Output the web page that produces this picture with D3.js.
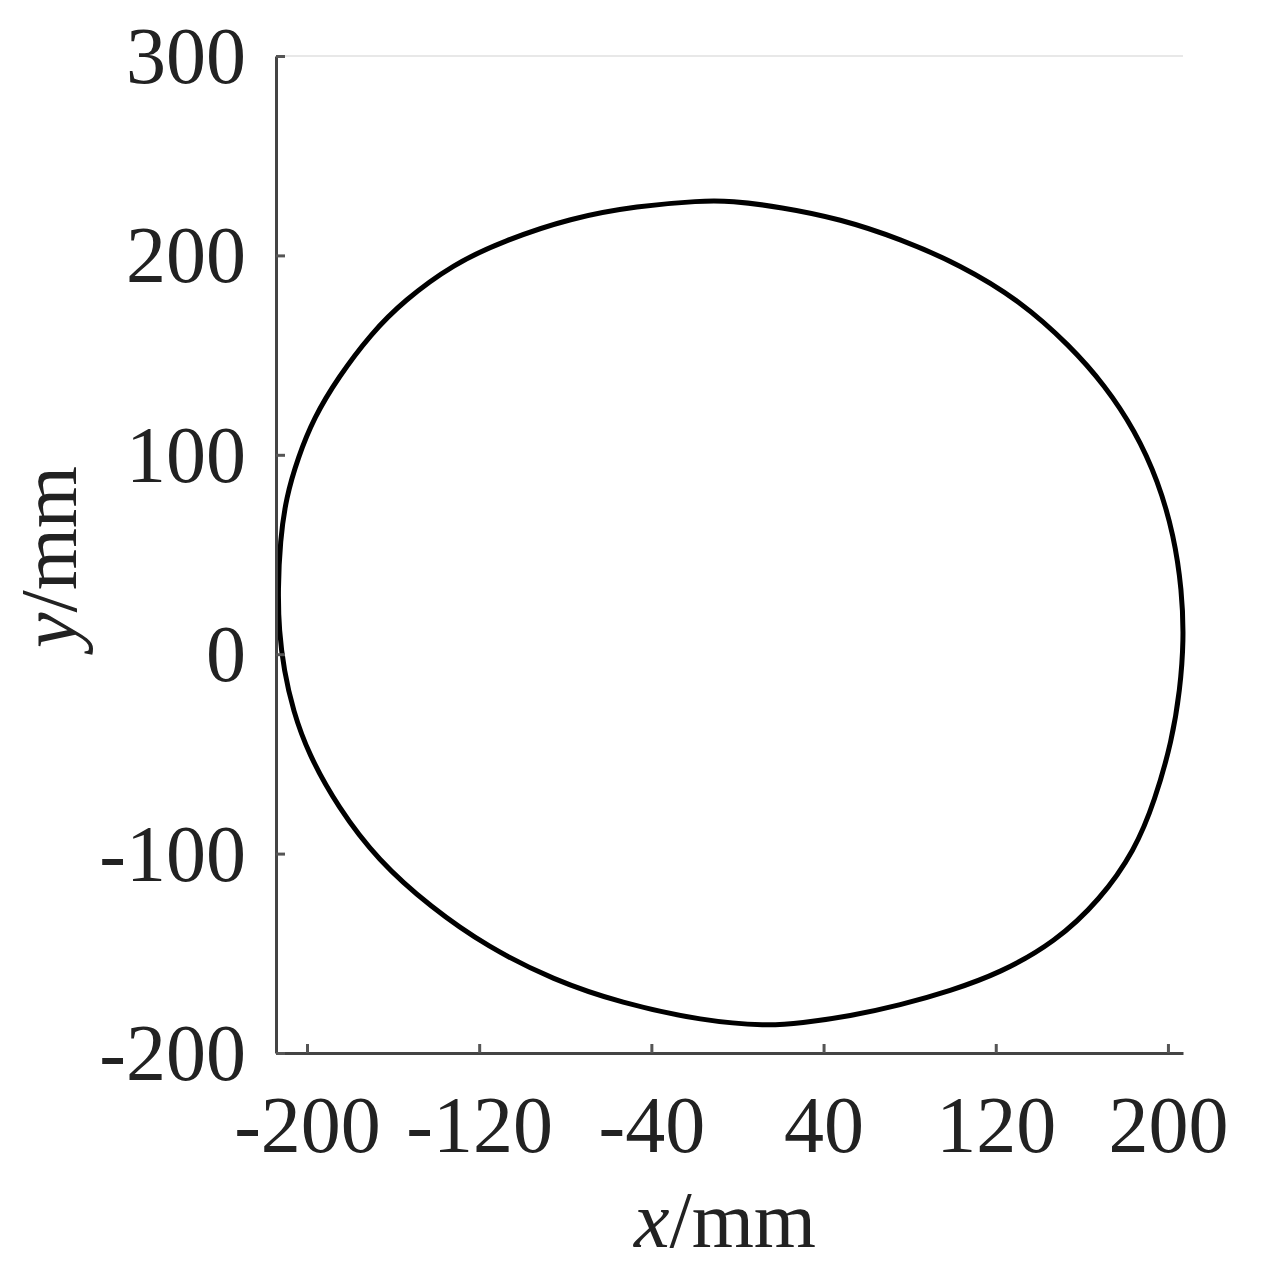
<!DOCTYPE html>
<html>
<head>
<meta charset="utf-8">
<script src="https://cdn.jsdelivr.net/npm/d3@7"></script>
<style>
  body { margin: 0; background: #fff; }
  svg { display: block; }
  .tick text { font-family: "Liberation Serif", "Times New Roman", serif; }
</style>
</head>
<body>
<div id="chart"></div>
<script>
// trajectory, clockwise from the top (mm)
var xs = [-3.3, 20.0, 47.8, 75.6, 103.5, 131.3, 154.5, 170.8, 184.7, 195.4, 202.8, 206.5, 207.4,
          205.6, 201.9, 194.0, 184.7, 168.4, 147.6, 122.0, 98.8, 75.6, 52.4, 29.2, 13.9, -15.8, -54.3,
          -85.4, -116.0, -142.5, -167.1, -185.6, -199.5, -206.5, -210.7, -213.0, -213.5, -212.5,
          -209.7, -204.2, -196.8, -185.6, -170.3, -155.0, -131.8, -108.6, -77.5, -46.4, -17.2];
var ys = [227.4, 224.3, 218.3, 208.3, 195.3, 177.3, 154.7, 134.7, 112.1, 87.1, 59.5, 32.0, 6.9,
          -18.1, -43.2, -73.2, -98.3, -123.3, -144.4, -159.9, -168.9, -176.0, -181.5, -185.0, -186.5, -184.0, -174.9,
          -163.4, -146.9, -126.9, -103.3, -76.8, -49.7, -28.2, -8.1, 11.9, 32.0, 57.0,
          78.6, 98.6, 118.6, 138.7, 160.7, 177.3, 195.8, 207.3, 218.8, 224.8, 227.4];

var xTicks = [-200, -120, -40, 40, 120, 200];
var yTicks = [-200, -100, 0, 100, 200, 300];

var W = 1266, H = 1286;
var mLeft = 276, mRight = 1183, mTop = 56, mBottom = 1053;

var svg = d3.select("#chart").append("svg")
    .attr("width", W)
    .attr("height", H);

var x = d3.scaleLinear().domain([-214.4, 207]).range([mLeft, mRight]);
var y = d3.scaleLinear().domain([-200, 300]).range([mBottom, mTop]);

// faint top frame line
svg.append("line")
    .attr("x1", mLeft).attr("x2", mRight)
    .attr("y1", mTop).attr("y2", mTop)
    .attr("stroke", "#e8e8e8")
    .attr("stroke-width", 2);

var pts = xs.map(function(d, i) { return [d, ys[i]]; });

var line = d3.line()
    .x(function(d) { return x(d[0]); })
    .y(function(d) { return y(d[1]); })
    .curve(d3.curveBasisClosed);

svg.append("path")
    .datum(pts)
    .attr("d", line)
    .attr("fill", "none")
    .attr("stroke", "#000")
    .attr("stroke-width", 5);

var fmt = function(d) { return String(d); };

var xAxis = d3.axisBottom(x)
    .tickValues(xTicks)
    .tickFormat(fmt)
    .tickSize(-9)
    .tickSizeOuter(0);

var yAxis = d3.axisLeft(y)
    .tickValues(yTicks)
    .tickFormat(fmt)
    .tickSize(-9)
    .tickSizeOuter(0);

var gx = svg.append("g")
    .attr("transform", "translate(0," + mBottom + ")")
    .call(xAxis);

var gy = svg.append("g")
    .attr("transform", "translate(" + mLeft + ",0)")
    .call(yAxis);

[gx, gy].forEach(function(g) {
    g.select(".domain").attr("stroke", "#444").attr("stroke-width", 3);
    g.selectAll(".tick line").attr("stroke", "#555").attr("stroke-width", 3);
    g.selectAll(".tick text")
        .attr("font-size", 80)
        .attr("fill", "#222");
});

gx.selectAll(".tick text").attr("y", 99).attr("dy", 0);
gy.selectAll(".tick text").attr("dy", "0.33em").attr("x", -30);

// x axis title
var xt = svg.append("text")
    .attr("x", 725)
    .attr("y", 1247)
    .attr("text-anchor", "middle")
    .attr("font-family", "Liberation Serif, Times New Roman, serif")
    .attr("font-size", 80)
    .attr("fill", "#222");
xt.append("tspan").attr("font-style", "italic").text("x");
xt.append("tspan").text("/mm");

// y axis title
var yt = svg.append("text")
    .attr("transform", "translate(76,557) rotate(-90)")
    .attr("text-anchor", "middle")
    .attr("font-family", "Liberation Serif, Times New Roman, serif")
    .attr("font-size", 80)
    .attr("fill", "#222");
yt.append("tspan").attr("font-style", "italic").text("y");
yt.append("tspan").text("/mm");
</script>
</body>
</html>
